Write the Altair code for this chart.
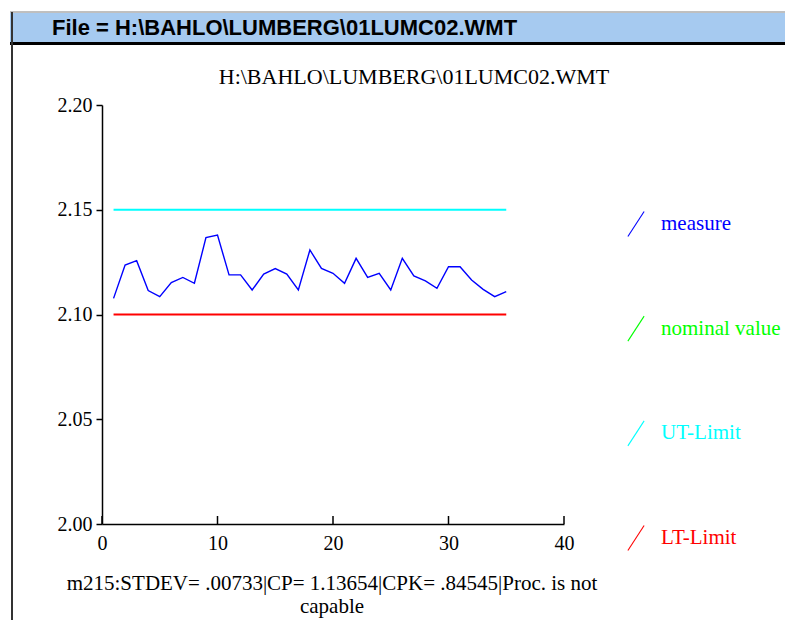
import altair as alt
import pandas as pd

# ---------------- data ----------------
x_vals = list(range(1, 36))
measure = [2.1077, 2.1236, 2.1257, 2.1114, 2.1085, 2.1152, 2.1177, 2.1149, 2.1367, 2.1379,
           2.1189, 2.1189, 2.1117, 2.1193, 2.1219, 2.1193, 2.1117, 2.1308, 2.1220, 2.1197,
           2.1149, 2.1268, 2.1177, 2.1197, 2.1117, 2.1268, 2.1184, 2.1160, 2.1125, 2.1228,
           2.1228, 2.1165, 2.1120, 2.1085, 2.1109]
limit_x = [1, 35]
ut_limit = [2.15, 2.15]
lt_limit = [2.10, 2.10]

series_names = ["measure", "nominal value", "UT-Limit", "LT-Limit"]
series_colors = ["#0000ff", "#00ff00", "#00ffff", "#ff0000"]

x_ticks = [0, 10, 20, 30, 40]
y_ticks = [2.00, 2.05, 2.10, 2.15, 2.20]

header = "File = H:\\BAHLO\\LUMBERG\\01LUMC02.WMT"
title = "H:\\BAHLO\\LUMBERG\\01LUMC02.WMT"
footer = "m215:STDEV= .00733|CP= 1.13654|CPK= .84545|Proc. is not\ncapable"

# ---------------- layout ----------------
W, H = 462, 419
SERIF = "Liberation Serif"

color_scale = alt.Scale(domain=series_names, range=series_colors)
xs = alt.Scale(domain=[0, 40], nice=False, zero=False)
ys = alt.Scale(domain=[2.0, 2.2], nice=False, zero=False)

meas_df = pd.DataFrame({"x": x_vals, "value": measure, "series": "measure"})
lim_df = pd.DataFrame({
    "x": limit_x + limit_x,
    "value": ut_limit + lt_limit,
    "series": ["UT-Limit"] * len(limit_x) + ["LT-Limit"] * len(limit_x),
})

x_axis = alt.Axis(values=x_ticks, format="d", ticks=False, tickSize=0, labelPadding=9,
                  domainColor="black", domainWidth=1.5, labelFont=SERIF, labelFontSize=20,
                  labelColor="black", title=None, grid=False, labelFlush=False)
y_axis = alt.Axis(values=y_ticks, format=".2f", tickSize=6, tickColor="black", tickWidth=1.5,
                  labelPadding=4, domainColor="black", domainWidth=1.5, labelFont=SERIF,
                  labelFontSize=20, labelColor="black", title=None, grid=False, labelFlush=False)

limits = alt.Chart(lim_df).mark_line(strokeWidth=2).encode(
    x=alt.X("x:Q", scale=xs, axis=x_axis),
    y=alt.Y("value:Q", scale=ys, axis=y_axis),
    color=alt.Color("series:N", scale=color_scale, legend=None),
)
measure_line = alt.Chart(meas_df).mark_line(strokeWidth=1.4).encode(
    x=alt.X("x:Q", scale=xs),
    y=alt.Y("value:Q", scale=ys),
    color=alt.Color("series:N", scale=color_scale, legend=None),
)
xtick_df = pd.DataFrame({"x": x_ticks})
xticks = alt.Chart(xtick_df).mark_rule(color="black", strokeWidth=1.5).encode(
    x=alt.X("x:Q", scale=xs), y=alt.value(H - 8), y2=alt.value(H)
)
main = alt.layer(limits, measure_line, xticks)

# legend built from the series names
legend_df = pd.DataFrame({"series": series_names})
leg_y = alt.Y("series:N", sort=series_names,
              scale=alt.Scale(type="point", range=[119, 433], padding=0), axis=None)
slashes = alt.Chart(legend_df).mark_point(
    shape="M-0.65,1L0.65,-1", size=625, filled=False, strokeWidth=1.1, opacity=1
).encode(x=alt.value(534), y=leg_y,
         color=alt.Color("series:N", scale=color_scale, legend=None))
labels = alt.Chart(legend_df).mark_text(
    align="left", baseline="middle", font=SERIF, fontSize=21
).encode(x=alt.value(559), y=leg_y, text="series:N",
         color=alt.Color("series:N", scale=color_scale, legend=None))
legend = alt.layer(slashes, labels)

# window decorations
one = pd.DataFrame({"a": [0]})
bar = alt.Chart(one).mark_rect(color="#a6caf0").encode(
    x=alt.value(-92), x2=alt.value(700), y=alt.value(-92), y2=alt.value(-63))
bar_top = alt.Chart(one).mark_rule(color="#808080", strokeWidth=1).encode(
    x=alt.value(-92), x2=alt.value(700), y=alt.value(-93))
bar_bottom = alt.Chart(one).mark_rect(color="black").encode(
    x=alt.value(-92), x2=alt.value(700), y=alt.value(-63), y2=alt.value(-60))
left_border = alt.Chart(one).mark_rule(color="#333333", strokeWidth=2).encode(
    x=alt.value(-90), y=alt.value(-93), y2=alt.value(H + 96))
header_text = alt.Chart(one).mark_text(
    align="left", baseline="middle", font="Liberation Sans", fontWeight="bold",
    fontSize=22, color="black").encode(x=alt.value(-50), y=alt.value(-77), text=alt.value(header))
title_text = alt.Chart(one).mark_text(
    align="center", baseline="alphabetic", font=SERIF, fontSize=22, color="black"
).encode(x=alt.value(312), y=alt.value(-21), text=alt.value(title))
footer_text = alt.Chart(one).mark_text(
    align="center", baseline="alphabetic", font=SERIF, fontSize=21, color="black",
    lineBreak="\n", lineHeight=23
).encode(x=alt.value(230), y=alt.value(485), text=alt.value(footer))

chart = alt.layer(
    bar, bar_top, bar_bottom, left_border, header_text, title_text, footer_text, main, legend
).resolve_scale(y="independent").properties(
    width=W, height=H,
    padding={"left": 94, "top": 97, "right": 221, "bottom": 96},
    autosize=alt.AutoSizeParams(type="none"),
    background="white",
).configure_view(stroke=None)

chart.save("out.html", embed_options={"renderer": "svg", "actions": False})
